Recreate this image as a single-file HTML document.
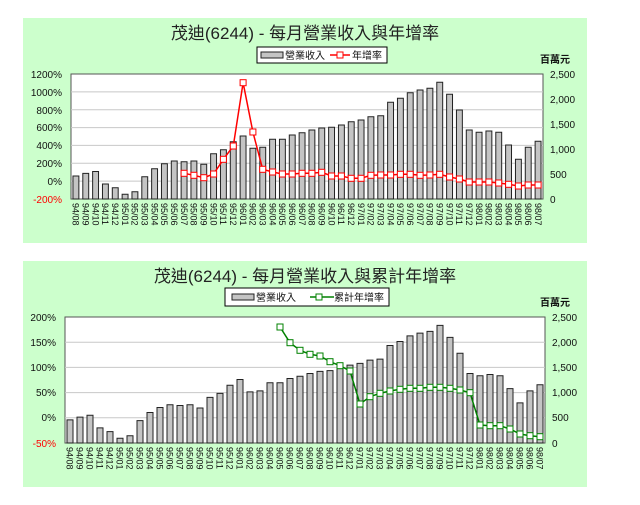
<!DOCTYPE html>
<html><head><meta charset="utf-8"><style>
body{margin:0;background:#fff}
svg{display:block}
text{font-family:"Liberation Sans","Noto Sans CJK TC",sans-serif}
.t{font-size:17px;fill:#222}
.a{font-size:10px;fill:#111}
.x{font-size:9px;fill:#111}
.g{stroke:#c8c8c8;stroke-width:1}
.bar rect{fill:#c4c4c4;stroke:#222;stroke-width:1}
</style></head><body>
<svg width="640" height="505" viewBox="0 0 640 505">
<rect x="23" y="18" width="564" height="225" fill="#ccffcc"/>
<rect x="23" y="261" width="564" height="226" fill="#ccffcc"/>
<!-- TOP -->
<text class="t" x="305" y="39" text-anchor="middle">茂迪(6244) - 每月營業收入與年增率</text>
<rect x="257" y="47" width="130" height="16" fill="#fff" stroke="#000"/>
<rect x="261" y="52" width="22" height="6" fill="#c4c4c4" stroke="#222"/>
<text class="a" x="285" y="59">營業收入</text>
<line x1="330" y1="55" x2="350" y2="55" stroke="red" stroke-width="1.5"/>
<rect x="337" y="52" width="6" height="6" fill="#fff" stroke="red"/>
<text class="a" x="352" y="59">年增率</text>
<text class="a" x="540" y="63" font-weight="bold">百萬元</text>
<rect x="71" y="74" width="472" height="125" fill="#fff" stroke="#555"/>
<g class="g"><line x1="71" x2="543" y1="91.9" y2="91.9"/><line x1="71" x2="543" y1="109.7" y2="109.7"/><line x1="71" x2="543" y1="127.6" y2="127.6"/><line x1="71" x2="543" y1="145.4" y2="145.4"/><line x1="71" x2="543" y1="163.3" y2="163.3"/><line x1="71" x2="543" y1="181.1" y2="181.1"/></g>
<g class="a" text-anchor="end"><text x="62" y="78">1200%</text><text x="62" y="96">1000%</text><text x="62" y="114">800%</text><text x="62" y="131">600%</text><text x="62" y="149">400%</text><text x="62" y="167">200%</text><text x="62" y="185">0%</text><text x="62" y="203" fill="red">-200%</text></g>
<g class="a"><text x="550" y="78">2,500</text><text x="550" y="103">2,000</text><text x="550" y="128">1,500</text><text x="550" y="153">1,000</text><text x="550" y="178">500</text><text x="550" y="203">0</text></g>
<g class="bar" transform="translate(71,199) scale(9.833,-0.05)">
<g vector-effect="non-scaling-stroke">
<rect vector-effect="non-scaling-stroke" x="0.2" width="0.6" height="460"/><rect vector-effect="non-scaling-stroke" x="1.2" width="0.6" height="513"/><rect vector-effect="non-scaling-stroke" x="2.2" width="0.6" height="550"/><rect vector-effect="non-scaling-stroke" x="3.2" width="0.6" height="300"/><rect vector-effect="non-scaling-stroke" x="4.2" width="0.6" height="225"/><rect vector-effect="non-scaling-stroke" x="5.2" width="0.6" height="95"/><rect vector-effect="non-scaling-stroke" x="6.2" width="0.6" height="145"/><rect vector-effect="non-scaling-stroke" x="7.2" width="0.6" height="445"/><rect vector-effect="non-scaling-stroke" x="8.2" width="0.6" height="605"/><rect vector-effect="non-scaling-stroke" x="9.2" width="0.6" height="705"/><rect vector-effect="non-scaling-stroke" x="10.2" width="0.6" height="760"/><rect vector-effect="non-scaling-stroke" x="11.2" width="0.6" height="745"/><rect vector-effect="non-scaling-stroke" x="12.2" width="0.6" height="760"/><rect vector-effect="non-scaling-stroke" x="13.2" width="0.6" height="695"/><rect vector-effect="non-scaling-stroke" x="14.2" width="0.6" height="905"/><rect vector-effect="non-scaling-stroke" x="15.2" width="0.6" height="985"/><rect vector-effect="non-scaling-stroke" x="16.2" width="0.6" height="1145"/><rect vector-effect="non-scaling-stroke" x="17.2" width="0.6" height="1260"/><rect vector-effect="non-scaling-stroke" x="18.2" width="0.6" height="1015"/><rect vector-effect="non-scaling-stroke" x="19.2" width="0.6" height="1035"/><rect vector-effect="non-scaling-stroke" x="20.2" width="0.6" height="1195"/><rect vector-effect="non-scaling-stroke" x="21.2" width="0.6" height="1195"/><rect vector-effect="non-scaling-stroke" x="22.2" width="0.6" height="1280"/><rect vector-effect="non-scaling-stroke" x="23.2" width="0.6" height="1325"/><rect vector-effect="non-scaling-stroke" x="24.2" width="0.6" height="1380"/><rect vector-effect="non-scaling-stroke" x="25.2" width="0.6" height="1420"/><rect vector-effect="non-scaling-stroke" x="26.2" width="0.6" height="1435"/><rect vector-effect="non-scaling-stroke" x="27.2" width="0.6" height="1480"/><rect vector-effect="non-scaling-stroke" x="28.2" width="0.6" height="1545"/><rect vector-effect="non-scaling-stroke" x="29.2" width="0.6" height="1580"/><rect vector-effect="non-scaling-stroke" x="30.2" width="0.6" height="1645"/><rect vector-effect="non-scaling-stroke" x="31.2" width="0.6" height="1665"/><rect vector-effect="non-scaling-stroke" x="32.2" width="0.6" height="1935"/><rect vector-effect="non-scaling-stroke" x="33.2" width="0.6" height="2015"/><rect vector-effect="non-scaling-stroke" x="34.2" width="0.6" height="2125"/><rect vector-effect="non-scaling-stroke" x="35.2" width="0.6" height="2180"/><rect vector-effect="non-scaling-stroke" x="36.2" width="0.6" height="2215"/><rect vector-effect="non-scaling-stroke" x="37.2" width="0.6" height="2335"/><rect vector-effect="non-scaling-stroke" x="38.2" width="0.6" height="2095"/><rect vector-effect="non-scaling-stroke" x="39.2" width="0.6" height="1780"/><rect vector-effect="non-scaling-stroke" x="40.2" width="0.6" height="1380"/><rect vector-effect="non-scaling-stroke" x="41.2" width="0.6" height="1335"/><rect vector-effect="non-scaling-stroke" x="42.2" width="0.6" height="1360"/><rect vector-effect="non-scaling-stroke" x="43.2" width="0.6" height="1335"/><rect vector-effect="non-scaling-stroke" x="44.2" width="0.6" height="1080"/><rect vector-effect="non-scaling-stroke" x="45.2" width="0.6" height="795"/><rect vector-effect="non-scaling-stroke" x="46.2" width="0.6" height="1035"/><rect vector-effect="non-scaling-stroke" x="47.2" width="0.6" height="1155"/>
</g></g>
<polyline fill="none" stroke="red" stroke-width="1.5" points="184.1,173.3 193.9,175.3 203.8,177.7 213.6,174 223.4,159.3 233.3,146 243.1,82.7 252.9,132 262.7,169.3 272.6,172 282.4,174 292.2,174 302.1,173.3 311.9,173.3 321.7,172.3 331.6,176 341.4,176 351.2,178.3 361.1,178.3 370.9,175.3 380.7,175 390.6,175 400.4,174.3 410.2,174.3 420.1,175.3 429.9,175 439.7,174.3 449.6,177 459.4,179 469.2,182 479.1,182 488.9,182 498.7,183 508.6,184.3 518.4,186 528.2,185 538.1,185"/>
<g fill="#fff" stroke="red" stroke-width="1">
<rect x="181.1" y="170.3" width="6" height="6"/><rect x="190.9" y="172.3" width="6" height="6"/><rect x="200.8" y="174.7" width="6" height="6"/><rect x="210.6" y="171" width="6" height="6"/><rect x="220.4" y="156.3" width="6" height="6"/><rect x="230.3" y="143" width="6" height="6"/><rect x="240.1" y="79.7" width="6" height="6"/><rect x="249.9" y="129" width="6" height="6"/><rect x="259.7" y="166.3" width="6" height="6"/><rect x="269.6" y="169" width="6" height="6"/><rect x="279.4" y="171" width="6" height="6"/><rect x="289.2" y="171" width="6" height="6"/><rect x="299.1" y="170.3" width="6" height="6"/><rect x="308.9" y="170.3" width="6" height="6"/><rect x="318.7" y="169.3" width="6" height="6"/><rect x="328.6" y="173" width="6" height="6"/><rect x="338.4" y="173" width="6" height="6"/><rect x="348.2" y="175.3" width="6" height="6"/><rect x="358.1" y="175.3" width="6" height="6"/><rect x="367.9" y="172.3" width="6" height="6"/><rect x="377.7" y="172" width="6" height="6"/><rect x="387.6" y="172" width="6" height="6"/><rect x="397.4" y="171.3" width="6" height="6"/><rect x="407.2" y="171.3" width="6" height="6"/><rect x="417.1" y="172.3" width="6" height="6"/><rect x="426.9" y="172" width="6" height="6"/><rect x="436.7" y="171.3" width="6" height="6"/><rect x="446.6" y="174" width="6" height="6"/><rect x="456.4" y="176" width="6" height="6"/><rect x="466.2" y="179" width="6" height="6"/><rect x="476.1" y="179" width="6" height="6"/><rect x="485.9" y="179" width="6" height="6"/><rect x="495.7" y="180" width="6" height="6"/><rect x="505.6" y="181.3" width="6" height="6"/><rect x="515.4" y="183" width="6" height="6"/><rect x="525.2" y="182" width="6" height="6"/><rect x="535.1" y="182" width="6" height="6"/>
</g>
<g class="x">
<text transform="translate(72.6,203) rotate(90)">94/08</text><text transform="translate(82.5,203) rotate(90)">94/09</text><text transform="translate(92.3,203) rotate(90)">94/10</text><text transform="translate(102.1,203) rotate(90)">94/11</text><text transform="translate(112,203) rotate(90)">94/12</text><text transform="translate(121.8,203) rotate(90)">95/01</text><text transform="translate(131.6,203) rotate(90)">95/02</text><text transform="translate(141.5,203) rotate(90)">95/03</text><text transform="translate(151.3,203) rotate(90)">95/04</text><text transform="translate(161.1,203) rotate(90)">95/05</text><text transform="translate(171,203) rotate(90)">95/06</text><text transform="translate(180.8,203) rotate(90)">95/07</text><text transform="translate(190.6,203) rotate(90)">95/08</text><text transform="translate(200.5,203) rotate(90)">95/09</text><text transform="translate(210.3,203) rotate(90)">95/10</text><text transform="translate(220.1,203) rotate(90)">95/11</text><text transform="translate(230,203) rotate(90)">95/12</text><text transform="translate(239.8,203) rotate(90)">96/01</text><text transform="translate(249.6,203) rotate(90)">96/02</text><text transform="translate(259.4,203) rotate(90)">96/03</text><text transform="translate(269.3,203) rotate(90)">96/04</text><text transform="translate(279.1,203) rotate(90)">96/05</text><text transform="translate(288.9,203) rotate(90)">96/06</text><text transform="translate(298.8,203) rotate(90)">96/07</text><text transform="translate(308.6,203) rotate(90)">96/08</text><text transform="translate(318.4,203) rotate(90)">96/09</text><text transform="translate(328.3,203) rotate(90)">96/10</text><text transform="translate(338.1,203) rotate(90)">96/11</text><text transform="translate(347.9,203) rotate(90)">96/12</text><text transform="translate(357.8,203) rotate(90)">97/01</text><text transform="translate(367.6,203) rotate(90)">97/02</text><text transform="translate(377.4,203) rotate(90)">97/03</text><text transform="translate(387.3,203) rotate(90)">97/04</text><text transform="translate(397.1,203) rotate(90)">97/05</text><text transform="translate(406.9,203) rotate(90)">97/06</text><text transform="translate(416.8,203) rotate(90)">97/07</text><text transform="translate(426.6,203) rotate(90)">97/08</text><text transform="translate(436.4,203) rotate(90)">97/09</text><text transform="translate(446.3,203) rotate(90)">97/10</text><text transform="translate(456.1,203) rotate(90)">97/11</text><text transform="translate(465.9,203) rotate(90)">97/12</text><text transform="translate(475.8,203) rotate(90)">98/01</text><text transform="translate(485.6,203) rotate(90)">98/02</text><text transform="translate(495.4,203) rotate(90)">98/03</text><text transform="translate(505.3,203) rotate(90)">98/04</text><text transform="translate(515.1,203) rotate(90)">98/05</text><text transform="translate(524.9,203) rotate(90)">98/06</text><text transform="translate(534.8,203) rotate(90)">98/07</text>
</g>
<!-- BOTTOM -->
<text class="t" x="305" y="282" text-anchor="middle">茂迪(6244) - 每月營業收入與累計年增率</text>
<rect x="225" y="288" width="164" height="18" fill="#fff" stroke="#000"/>
<rect x="232" y="294" width="22" height="6" fill="#c4c4c4" stroke="#222"/>
<text class="a" x="256" y="301">營業收入</text>
<line x1="310" y1="297" x2="334" y2="297" stroke="#008000" stroke-width="1.5"/>
<rect x="316" y="294" width="6" height="6" fill="#fff" stroke="#008000"/>
<text class="a" x="334" y="301">累計年增率</text>
<text class="a" x="540" y="306" font-weight="bold">百萬元</text>
<rect x="65" y="317" width="480" height="126" fill="#fff" stroke="#555"/>
<g class="g"><line x1="65" x2="545" y1="342.2" y2="342.2"/><line x1="65" x2="545" y1="367.4" y2="367.4"/><line x1="65" x2="545" y1="392.6" y2="392.6"/><line x1="65" x2="545" y1="417.8" y2="417.8"/></g>
<g class="a" text-anchor="end"><text x="56" y="321">200%</text><text x="56" y="346">150%</text><text x="56" y="371">100%</text><text x="56" y="396">50%</text><text x="56" y="421">0%</text><text x="56" y="447" fill="red">-50%</text></g>
<g class="a"><text x="552" y="321">2,500</text><text x="552" y="346">2,000</text><text x="552" y="371">1,500</text><text x="552" y="396">1,000</text><text x="552" y="421">500</text><text x="552" y="447">0</text></g>
<g class="bar" transform="translate(65,443) scale(10,-0.0504)">
<rect vector-effect="non-scaling-stroke" x="0.2" width="0.6" height="460"/><rect vector-effect="non-scaling-stroke" x="1.2" width="0.6" height="513"/><rect vector-effect="non-scaling-stroke" x="2.2" width="0.6" height="550"/><rect vector-effect="non-scaling-stroke" x="3.2" width="0.6" height="300"/><rect vector-effect="non-scaling-stroke" x="4.2" width="0.6" height="225"/><rect vector-effect="non-scaling-stroke" x="5.2" width="0.6" height="95"/><rect vector-effect="non-scaling-stroke" x="6.2" width="0.6" height="145"/><rect vector-effect="non-scaling-stroke" x="7.2" width="0.6" height="445"/><rect vector-effect="non-scaling-stroke" x="8.2" width="0.6" height="605"/><rect vector-effect="non-scaling-stroke" x="9.2" width="0.6" height="705"/><rect vector-effect="non-scaling-stroke" x="10.2" width="0.6" height="760"/><rect vector-effect="non-scaling-stroke" x="11.2" width="0.6" height="745"/><rect vector-effect="non-scaling-stroke" x="12.2" width="0.6" height="760"/><rect vector-effect="non-scaling-stroke" x="13.2" width="0.6" height="695"/><rect vector-effect="non-scaling-stroke" x="14.2" width="0.6" height="905"/><rect vector-effect="non-scaling-stroke" x="15.2" width="0.6" height="985"/><rect vector-effect="non-scaling-stroke" x="16.2" width="0.6" height="1145"/><rect vector-effect="non-scaling-stroke" x="17.2" width="0.6" height="1260"/><rect vector-effect="non-scaling-stroke" x="18.2" width="0.6" height="1015"/><rect vector-effect="non-scaling-stroke" x="19.2" width="0.6" height="1035"/><rect vector-effect="non-scaling-stroke" x="20.2" width="0.6" height="1195"/><rect vector-effect="non-scaling-stroke" x="21.2" width="0.6" height="1195"/><rect vector-effect="non-scaling-stroke" x="22.2" width="0.6" height="1280"/><rect vector-effect="non-scaling-stroke" x="23.2" width="0.6" height="1325"/><rect vector-effect="non-scaling-stroke" x="24.2" width="0.6" height="1380"/><rect vector-effect="non-scaling-stroke" x="25.2" width="0.6" height="1420"/><rect vector-effect="non-scaling-stroke" x="26.2" width="0.6" height="1435"/><rect vector-effect="non-scaling-stroke" x="27.2" width="0.6" height="1480"/><rect vector-effect="non-scaling-stroke" x="28.2" width="0.6" height="1545"/><rect vector-effect="non-scaling-stroke" x="29.2" width="0.6" height="1580"/><rect vector-effect="non-scaling-stroke" x="30.2" width="0.6" height="1645"/><rect vector-effect="non-scaling-stroke" x="31.2" width="0.6" height="1665"/><rect vector-effect="non-scaling-stroke" x="32.2" width="0.6" height="1935"/><rect vector-effect="non-scaling-stroke" x="33.2" width="0.6" height="2015"/><rect vector-effect="non-scaling-stroke" x="34.2" width="0.6" height="2125"/><rect vector-effect="non-scaling-stroke" x="35.2" width="0.6" height="2180"/><rect vector-effect="non-scaling-stroke" x="36.2" width="0.6" height="2215"/><rect vector-effect="non-scaling-stroke" x="37.2" width="0.6" height="2335"/><rect vector-effect="non-scaling-stroke" x="38.2" width="0.6" height="2095"/><rect vector-effect="non-scaling-stroke" x="39.2" width="0.6" height="1780"/><rect vector-effect="non-scaling-stroke" x="40.2" width="0.6" height="1380"/><rect vector-effect="non-scaling-stroke" x="41.2" width="0.6" height="1335"/><rect vector-effect="non-scaling-stroke" x="42.2" width="0.6" height="1360"/><rect vector-effect="non-scaling-stroke" x="43.2" width="0.6" height="1335"/><rect vector-effect="non-scaling-stroke" x="44.2" width="0.6" height="1080"/><rect vector-effect="non-scaling-stroke" x="45.2" width="0.6" height="795"/><rect vector-effect="non-scaling-stroke" x="46.2" width="0.6" height="1035"/><rect vector-effect="non-scaling-stroke" x="47.2" width="0.6" height="1155"/>
</g>
<polyline fill="none" stroke="#008000" stroke-width="1.5" points="280,327 290,342.7 300,350.3 310,354.3 320,356 330,361.7 340,365.7 350,371 360,404 370,396.7 380,393.3 390,391 400,389.3 410,388.3 420,388.3 430,387.3 440,387.3 450,388.3 460,390 470,392.7 480,425 490,425.7 500,425.7 510,429 520,434 530,435.7 540,436.7"/>
<g fill="#fff" stroke="#008000" stroke-width="1">
<rect x="277" y="324" width="6" height="6"/><rect x="287" y="339.7" width="6" height="6"/><rect x="297" y="347.3" width="6" height="6"/><rect x="307" y="351.3" width="6" height="6"/><rect x="317" y="353" width="6" height="6"/><rect x="327" y="358.7" width="6" height="6"/><rect x="337" y="362.7" width="6" height="6"/><rect x="347" y="368" width="6" height="6"/><rect x="357" y="401" width="6" height="6"/><rect x="367" y="393.7" width="6" height="6"/><rect x="377" y="390.3" width="6" height="6"/><rect x="387" y="388" width="6" height="6"/><rect x="397" y="386.3" width="6" height="6"/><rect x="407" y="385.3" width="6" height="6"/><rect x="417" y="385.3" width="6" height="6"/><rect x="427" y="384.3" width="6" height="6"/><rect x="437" y="384.3" width="6" height="6"/><rect x="447" y="385.3" width="6" height="6"/><rect x="457" y="387" width="6" height="6"/><rect x="467" y="389.7" width="6" height="6"/><rect x="477" y="422" width="6" height="6"/><rect x="487" y="422.7" width="6" height="6"/><rect x="497" y="422.7" width="6" height="6"/><rect x="507" y="426" width="6" height="6"/><rect x="517" y="431" width="6" height="6"/><rect x="527" y="432.7" width="6" height="6"/><rect x="537" y="433.7" width="6" height="6"/>
</g>
<g class="x">
<text transform="translate(66.5,447) rotate(90)">94/08</text><text transform="translate(76.5,447) rotate(90)">94/09</text><text transform="translate(86.5,447) rotate(90)">94/10</text><text transform="translate(96.5,447) rotate(90)">94/11</text><text transform="translate(106.5,447) rotate(90)">94/12</text><text transform="translate(116.5,447) rotate(90)">95/01</text><text transform="translate(126.5,447) rotate(90)">95/02</text><text transform="translate(136.5,447) rotate(90)">95/03</text><text transform="translate(146.5,447) rotate(90)">95/04</text><text transform="translate(156.5,447) rotate(90)">95/05</text><text transform="translate(166.5,447) rotate(90)">95/06</text><text transform="translate(176.5,447) rotate(90)">95/07</text><text transform="translate(186.5,447) rotate(90)">95/08</text><text transform="translate(196.5,447) rotate(90)">95/09</text><text transform="translate(206.5,447) rotate(90)">95/10</text><text transform="translate(216.5,447) rotate(90)">95/11</text><text transform="translate(226.5,447) rotate(90)">95/12</text><text transform="translate(236.5,447) rotate(90)">96/01</text><text transform="translate(246.5,447) rotate(90)">96/02</text><text transform="translate(256.5,447) rotate(90)">96/03</text><text transform="translate(266.5,447) rotate(90)">96/04</text><text transform="translate(276.5,447) rotate(90)">96/05</text><text transform="translate(286.5,447) rotate(90)">96/06</text><text transform="translate(296.5,447) rotate(90)">96/07</text><text transform="translate(306.5,447) rotate(90)">96/08</text><text transform="translate(316.5,447) rotate(90)">96/09</text><text transform="translate(326.5,447) rotate(90)">96/10</text><text transform="translate(336.5,447) rotate(90)">96/11</text><text transform="translate(346.5,447) rotate(90)">96/12</text><text transform="translate(356.5,447) rotate(90)">97/01</text><text transform="translate(366.5,447) rotate(90)">97/02</text><text transform="translate(376.5,447) rotate(90)">97/03</text><text transform="translate(386.5,447) rotate(90)">97/04</text><text transform="translate(396.5,447) rotate(90)">97/05</text><text transform="translate(406.5,447) rotate(90)">97/06</text><text transform="translate(416.5,447) rotate(90)">97/07</text><text transform="translate(426.5,447) rotate(90)">97/08</text><text transform="translate(436.5,447) rotate(90)">97/09</text><text transform="translate(446.5,447) rotate(90)">97/10</text><text transform="translate(456.5,447) rotate(90)">97/11</text><text transform="translate(466.5,447) rotate(90)">97/12</text><text transform="translate(476.5,447) rotate(90)">98/01</text><text transform="translate(486.5,447) rotate(90)">98/02</text><text transform="translate(496.5,447) rotate(90)">98/03</text><text transform="translate(506.5,447) rotate(90)">98/04</text><text transform="translate(516.5,447) rotate(90)">98/05</text><text transform="translate(526.5,447) rotate(90)">98/06</text><text transform="translate(536.5,447) rotate(90)">98/07</text>
</g>
</svg>
</body></html>
